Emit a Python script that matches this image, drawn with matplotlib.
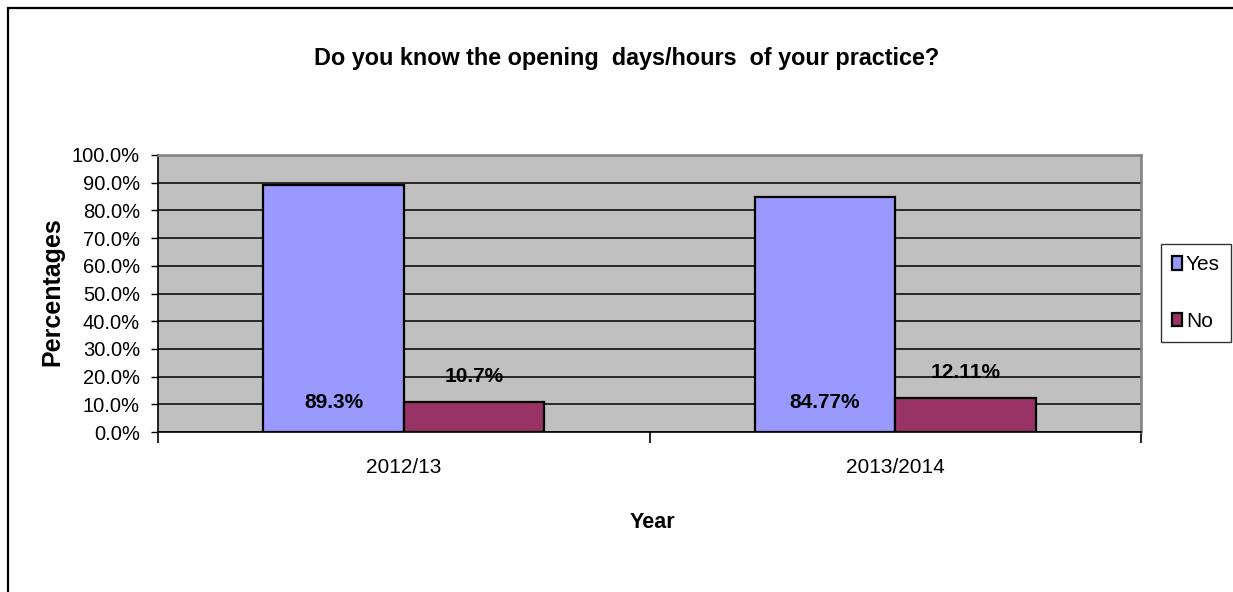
import matplotlib
matplotlib.use("Agg")
import matplotlib.pyplot as plt
import matplotlib.patches as mpatches
from matplotlib.ticker import FuncFormatter, FixedLocator
import numpy as np

# survey answers per year (percent)
years = ["2012/13", "2013/2014"]
yes_vals = [89.3, 84.77]
no_vals = [10.7, 12.11]
yes_labels = ["89.3%", "84.77%"]
no_labels = ["10.7%", "12.11%"]

YES_COL = "#9999FF"
NO_COL = "#993366"
BG = "#C0C0C0"

plt.rcParams["font.family"] = ["Liberation Sans Narrow", "Liberation Sans", "DejaVu Sans"]

fig = plt.figure(figsize=(12.33, 5.92), dpi=100)
ax = fig.add_axes([158 / 1233, 1 - 432 / 592, (1141 - 158) / 1233, (432 - 155) / 592])
ax.set_facecolor(BG)

x = np.arange(len(years))
w = 0.286
b1 = ax.bar(x - w / 2, yes_vals, w, color=YES_COL, edgecolor="black", linewidth=1.6, zorder=3, label="Yes")
b2 = ax.bar(x + w / 2, no_vals, w, color=NO_COL, edgecolor="black", linewidth=1.6, zorder=3, label="No")

# value labels: "Yes" sits near the base, "No" floats above its bar
for xi, lab in zip(x - w / 2, yes_labels):
    ax.annotate(lab, (xi, 0), xytext=(0, 29), textcoords="offset pixels",
                ha="center", va="center", fontsize=15, fontweight="bold", zorder=5)
for xi, v, lab in zip(x + w / 2, no_vals, no_labels):
    ax.annotate(lab, (xi, v), xytext=(0, 26), textcoords="offset pixels",
                ha="center", va="center", fontsize=15, fontweight="bold", zorder=5)

ax.set_xlim(-0.5, len(years) - 0.5)
ax.set_ylim(0, 100)
ax.set_yticks(np.arange(0, 101, 10))
ax.yaxis.set_major_formatter(FuncFormatter(lambda v, p: f"{v:.1f}%"))
ax.grid(axis="y", color="black", linewidth=1.1, zorder=1)
ax.tick_params(axis="y", length=5, width=1, labelsize=14.5, pad=8)

ax.set_xticks(x)
ax.set_xticklabels(years, fontsize=15)
ax.xaxis.set_minor_locator(FixedLocator([-0.5, 0.5, 1.5]))
ax.tick_params(axis="x", which="major", length=0, pad=19)
ax.tick_params(axis="x", which="minor", length=8, width=1.2)

for s in ["top", "right"]:
    ax.spines[s].set_color("#808080")
    ax.spines[s].set_linewidth(1.8)
for s in ["left", "bottom"]:
    ax.spines[s].set_color("black")
    ax.spines[s].set_linewidth(1.2)

fig.text(627 / 1233, 1 - 58 / 592, "Do you know the opening  days/hours  of your practice?",
         ha="center", va="center", fontsize=16.8, fontweight="bold")
fig.text(52 / 1233, 1 - 292 / 592, "Percentages", rotation=90, ha="center", va="center",
         fontsize=18, fontweight="bold")
fig.text(652 / 1233, 1 - 523 / 592, "Year", ha="center", va="center",
         fontsize=15.5, fontweight="bold")

leg = fig.legend(handles=[b1, b2], labels=["Yes", "No"], loc="center",
                 bbox_to_anchor=(1196 / 1233, 1 - 293 / 592), fontsize=15,
                 frameon=True, fancybox=False, edgecolor="black", handlelength=0.45,
                 handleheight=0.6, handletextpad=0.2, labelspacing=1.8,
                 borderpad=0.55, borderaxespad=0)
leg.get_frame().set_linewidth(1.0)

# outer chart frame, running off the right and bottom edges
fig.patches.append(mpatches.Rectangle((7.5 / 1233, -0.1), 1.1, 1 - 7.5 / 592 + 0.1,
                                      transform=fig.transFigure, fill=False,
                                      edgecolor="black", linewidth=1.6))

fig.savefig("out.png", dpi=100)
